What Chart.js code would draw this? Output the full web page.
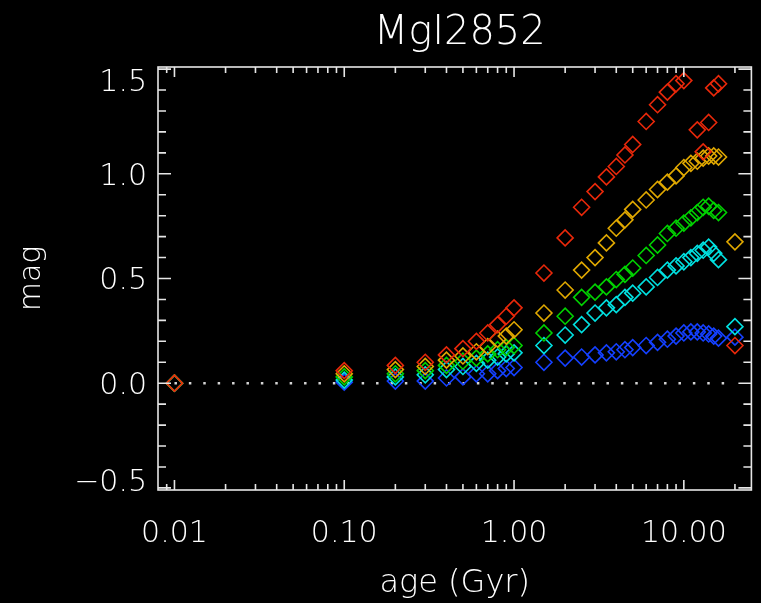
<!DOCTYPE html>
<html><head><meta charset="utf-8">
<script src="https://cdn.jsdelivr.net/npm/chart.js@4.4.1/dist/chart.umd.min.js"></script>
<style>html,body{margin:0;padding:0;background:#000;} #wrap{width:761px;height:603px;}</style>
</head><body><div id="wrap"><canvas id="c" width="761" height="603"></canvas></div>
<script>
const chartTitle = 'MgI2852';
const xTitle = 'age (Gyr)';
const yTitle = 'mag';
const xTickValues = [0.01, 0.1, 1, 10];
const xTickLabels = ['0.01', '0.10', '1.00', '10.00'];
const yTickValues = [-0.5, 0, 0.5, 1.0, 1.5];
const yTickLabels = ['\u22120.5', '0.0', '0.5', '1.0', '1.5'];

const ages = [0.01, 0.1, 0.2, 0.3, 0.4, 0.5, 0.6, 0.7, 0.8, 0.9, 1.0,
              1.5, 2, 2.5, 3, 3.5, 4, 4.5, 5, 6, 7, 8, 9, 10, 11, 12, 13, 14, 15, 16, 20];
const magRed   = [0.0, 0.06, 0.085, 0.10, 0.135, 0.165, 0.20, 0.24, 0.28, 0.32, 0.36,
                  0.526, 0.694, 0.84, 0.915, 0.985, 1.035, 1.09, 1.14, 1.25, 1.33, 1.39, 1.43, 1.445, null, 1.21, 1.105, 1.245, 1.41, 1.43, 0.18];
const magGold  = [0.0, 0.045, 0.065, 0.08, 0.11, 0.13, 0.15, 0.175, 0.21, 0.225, 0.255,
                  0.335, 0.445, 0.54, 0.60, 0.67, 0.74, 0.78, 0.83, 0.875, 0.925, 0.96, 0.99, 1.03, 1.05, 1.06, 1.075, 1.085, 1.085, 1.08, 0.675];
const magGreen = [0.0, 0.03, 0.045, 0.06, 0.085, 0.105, 0.12, 0.14, 0.16, 0.17, 0.18,
                  0.24, 0.32, 0.41, 0.435, 0.46, 0.495, 0.52, 0.55, 0.61, 0.66, 0.715, 0.74, 0.765, 0.79, 0.815, 0.84, 0.845, 0.825, 0.815, null];
const magCyan  = [0.0, 0.015, 0.03, 0.04, 0.065, 0.08, 0.095, 0.11, 0.125, 0.14, 0.145,
                  0.18, 0.23, 0.28, 0.335, 0.36, 0.375, 0.41, 0.43, 0.46, 0.505, 0.54, 0.56, 0.58, 0.60, 0.62, 0.635, 0.65, 0.62, 0.59, 0.27];
const magBlue  = [0.0, 0.005, 0.01, 0.01, 0.025, 0.03, 0.045, 0.045, 0.06, 0.07, 0.075,
                  0.10, 0.12, 0.125, 0.135, 0.145, 0.15, 0.16, 0.17, 0.18, 0.195, 0.21, 0.225, 0.24, 0.245, 0.245, 0.24, 0.235, 0.225, 0.215, 0.22];
const zeroLineAges = [0.01, 20];

const FONT = 'DejaVu Sans';
const WEIGHT = '200';

function pts(vals) {
  return ages.map((a, i) => ({x: a, y: vals[i]})).filter(p => p.y !== null);
}
function series(vals, color) {
  return {
    type: 'scatter', data: pts(vals), showLine: false,
    pointStyle: 'rectRot', pointRadius: 8, pointHoverRadius: 8,
    borderColor: color, backgroundColor: 'rgba(0,0,0,0)', pointBorderWidth: 1.6, borderWidth: 1.6
  };
}

const idlFrame = {
  id: 'idlFrame',
  afterDraw(chart) {
    const ctx = chart.ctx, a = chart.chartArea;
    const xs = chart.scales.x, ys = chart.scales.y;
    ctx.save();
    ctx.strokeStyle = '#e6e6e6';
    ctx.lineWidth = 1.6;
    ctx.strokeRect(a.left, a.top, a.right - a.left, a.bottom - a.top);
    ctx.beginPath();
    const xMinor = [];
    for (let d = 0.001; d <= 100; d *= 10) {
      for (let m = 2; m <= 9; m++) {
        const v = m * d;
        if (v > xs.min && v < xs.max) xMinor.push(v);
      }
    }
    xMinor.forEach(v => {
      const p = xs.getPixelForValue(v);
      ctx.moveTo(p, a.bottom); ctx.lineTo(p, a.bottom - 6);
      ctx.moveTo(p, a.top); ctx.lineTo(p, a.top + 6);
    });
    xTickValues.forEach(v => {
      const p = xs.getPixelForValue(v);
      ctx.moveTo(p, a.bottom); ctx.lineTo(p, a.bottom - 10);
      ctx.moveTo(p, a.top); ctx.lineTo(p, a.top + 10);
    });
    for (let k = -5; k <= 15; k++) {
      const v = k / 10;
      const p = ys.getPixelForValue(v);
      const len = (k % 5 === 0) ? 13 : 8;
      ctx.moveTo(a.left, p); ctx.lineTo(a.left + len, p);
      ctx.moveTo(a.right, p); ctx.lineTo(a.right - len, p);
    }
    ctx.stroke();
    ctx.fillStyle = '#ffffff';
    ctx.font = WEIGHT + ' 30px "' + FONT + '"';
    ctx.textAlign = 'right';
    ctx.textBaseline = 'middle';
    yTickValues.forEach((v, i) => {
      let p = ys.getPixelForValue(v) + 3;
      p = Math.min(Math.max(p, a.top + 16), a.bottom - 7);
      ctx.fillText(yTickLabels[i], a.left - 11, p);
    });
    ctx.font = WEIGHT + ' 40px "' + FONT + '"';
    ctx.textAlign = 'center';
    ctx.fillText(chartTitle, (a.left + a.right) / 2 + 5, 34);
    ctx.restore();
  }
};

new Chart(document.getElementById('c'), {
  data: {
    datasets: [
      series(magRed, '#e8280a'),
      series(magGold, '#e0a800'),
      series(magGreen, '#00d200'),
      series(magCyan, '#00e0e0'),
      series(magBlue, '#1440ff'),
      {
        type: 'line', data: zeroLineAges.map(a => ({x: a, y: 0})),
        borderColor: '#d4d4d4', borderWidth: 2.5, borderDash: [2.5, 11.9],
        pointRadius: 0, fill: false, borderCapStyle: 'butt'
      }
    ]
  },
  options: {
    responsive: false,
    animation: false,
    events: [],
    layout: {padding: {top: 67, right: 8, left: 0, bottom: 0}},
    plugins: {legend: {display: false}, tooltip: {enabled: false}, title: {display: false}},
    scales: {
      x: {
        type: 'logarithmic', min: 0.008, max: 25,
        afterBuildTicks: s => { s.ticks = xTickValues.map(v => ({value: v})); },
        afterFit: s => { s.height = 113; },
        grid: {display: false, drawTicks: false},
        border: {display: false},
        ticks: {
          color: '#ffffff', padding: 26, maxRotation: 0, autoSkip: false,
          font: {family: FONT, size: 30, weight: WEIGHT},
          callback: v => xTickLabels[xTickValues.indexOf(v)]
        },
        title: {display: true, text: xTitle, color: '#ffffff', padding: {top: 8, bottom: 0},
                font: {family: FONT, size: 32, weight: WEIGHT}}
      },
      y: {
        type: 'linear', min: -0.51, max: 1.51,
        afterFit: s => { s.width = 158; },
        grid: {display: false, drawTicks: false},
        border: {display: false},
        ticks: {display: false},
        title: {display: true, text: yTitle, color: '#ffffff', padding: {top: 14, bottom: 0},
                font: {family: FONT, size: 30, weight: WEIGHT}}
      }
    }
  },
  plugins: [idlFrame]
});
</script></body></html>
